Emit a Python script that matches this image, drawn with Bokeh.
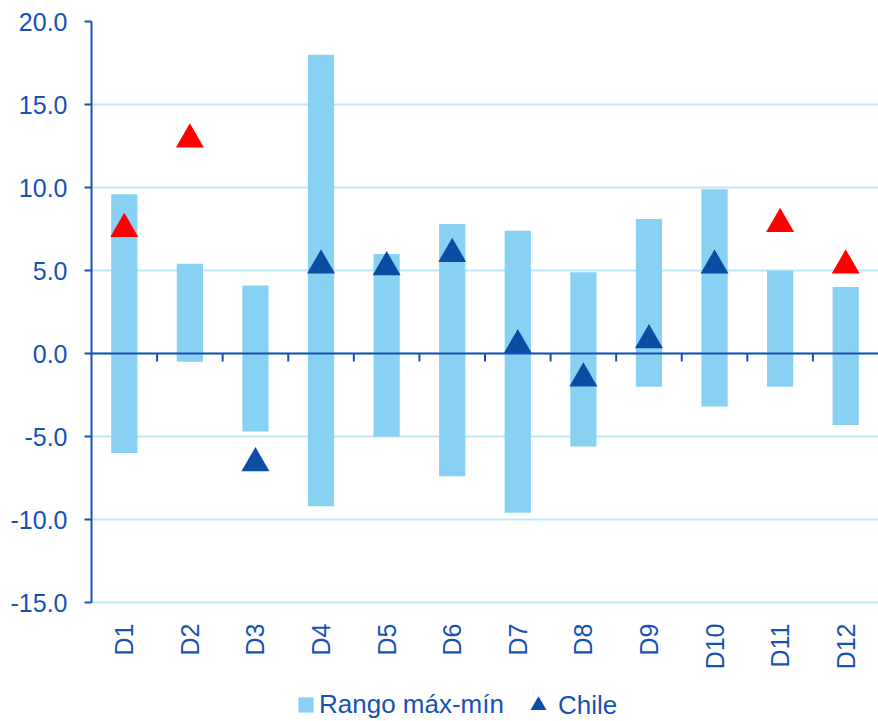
import math

from bokeh.plotting import figure
from bokeh.models import (ColumnDataSource, Range1d, LinearAxis, FixedTicker,
                          PrintfTickFormatter, Legend, LegendItem, Span)
from bokeh.embed import file_html
from bokeh.resources import INLINE

# Deciles and their max-min range, with Chile's value for each
categorias = ["D1", "D2", "D3", "D4", "D5", "D6", "D7", "D8", "D9", "D10", "D11", "D12"]
maximo = [9.6, 5.4, 4.1, 18.0, 6.0, 7.8, 7.4, 4.9, 8.1, 9.9, 5.0, 4.0]
minimo = [-6.0, -0.5, -4.7, -9.2, -5.0, -7.4, -9.6, -5.6, -2.0, -3.2, -2.0, -4.3]
chile = [7.5, 12.9, -6.6, 5.3, 5.2, 6.0, 0.5, -1.5, 0.8, 5.3, 7.8, 5.3]
destacado = [True, True, False, False, False, False, False, False, False, False, True, True]
ticks_y = [-15, -10, -5, 0, 5, 10, 15, 20]

AZUL_TEXTO = "#1652B4"
AZUL_MARCA = "#0A4DA2"
ROJO = "#FF0000"
CELESTE = "#89D1F2"
GRILLA = "#BDE8F8"
FUENTE = "Liberation Sans"

ALTO, ANCHO = 721, 878
MARGEN_SUP, MARGEN_IZQ = 21, 91
ALTO_EJE = 581                     # pixels from 20.0 down to -15.0
y_min, y_max = ticks_y[0], ticks_y[-1]
# the frame runs to the bottom of the canvas; the range below -15 holds labels + legend
y_fondo = y_min - (ALTO - MARGEN_SUP - ALTO_EJE) * (y_max - y_min) / ALTO_EJE

n = len(categorias)
centros = [i + 0.5 for i in range(n)]      # slot centre of each category
limites = list(range(1, n))                # slot boundaries

src = ColumnDataSource(dict(
    x=centros, top=maximo, bottom=minimo, chile=chile,
    color=[ROJO if d else AZUL_MARCA for d in destacado],
))

p = figure(width=ANCHO, height=ALTO,
           x_range=Range1d(0, n), y_range=Range1d(y_fondo, y_max),
           output_backend="svg", toolbar_location=None,
           x_axis_type=None,
           min_border_left=MARGEN_IZQ, min_border_right=0,
           min_border_top=MARGEN_SUP, min_border_bottom=0)
p.outline_line_color = None
p.background_fill_color = "white"
p.border_fill_color = "white"

# horizontal grid
p.xgrid.grid_line_color = None
p.ygrid.ticker = FixedTicker(ticks=ticks_y)
p.ygrid.grid_line_color = GRILLA
p.ygrid.grid_line_width = 2

# value axis
yax = p.yaxis[0]
yax.bounds = (y_min, y_max)
yax.ticker = FixedTicker(ticks=ticks_y)
yax.formatter = PrintfTickFormatter(format="%.1f")
yax.axis_line_color = AZUL_TEXTO
yax.axis_line_width = 2
yax.major_tick_line_color = AZUL_TEXTO
yax.major_tick_line_width = 2
yax.major_tick_out = 7
yax.major_tick_in = 0
yax.minor_tick_line_color = None
yax.major_label_standoff = 17
yax.major_label_text_font = FUENTE
yax.major_label_text_font_size = "25px"
yax.major_label_text_color = AZUL_TEXTO

# category labels under the -15 line
eje_cat = LinearAxis(fixed_location=y_min,
                     ticker=FixedTicker(ticks=centros),
                     major_label_overrides={c: lab for c, lab in zip(centros, categorias)},
                     axis_line_color=None, major_tick_line_color=None,
                     minor_tick_line_color=None,
                     major_tick_out=0, major_tick_in=0,
                     major_label_orientation=math.pi / 2,
                     major_label_standoff=21,
                     major_label_text_font=FUENTE,
                     major_label_text_font_size="25px",
                     major_label_text_color=AZUL_TEXTO)
p.add_layout(eje_cat, "below")

# zero line with short ticks between categories
p.add_layout(Span(location=0, dimension="width", line_color=AZUL_TEXTO, line_width=2))
p.ray(x=limites, y=[0] * len(limites), length=8, length_units="screen",
      angle=-math.pi / 2, line_color=AZUL_TEXTO, line_width=2)

# floating range bars
barras = p.vbar(x="x", top="top", bottom="bottom", width=0.4, source=src,
                fill_color=CELESTE, line_color=None)

# Chile markers
tri = p.scatter(x="x", y="chile", source=src, marker="triangle", size=28,
                fill_color="color", line_color=None)

# legend: one block per item so each swatch keeps its own size
estilo = dict(orientation="horizontal", padding=0, margin=0, spacing=0,
              border_line_color=None, background_fill_alpha=0,
              label_text_font=FUENTE, label_text_font_size="26px",
              label_text_color=AZUL_TEXTO)
leyenda_rango = Legend(items=[LegendItem(label="Rango máx-mín", renderers=[barras])],
                       location=(205, 1), glyph_width=19, glyph_height=19,
                       label_standoff=4, **estilo)
leyenda_chile = Legend(items=[LegendItem(label="Chile", renderers=[tri], index=2)],
                       location=(427, -4), glyph_width=40, glyph_height=40,
                       label_standoff=0, **estilo)
p.add_layout(leyenda_rango)
p.add_layout(leyenda_chile)

with open("out.html", "w", encoding="utf-8") as f:
    f.write(file_html(p, INLINE))
